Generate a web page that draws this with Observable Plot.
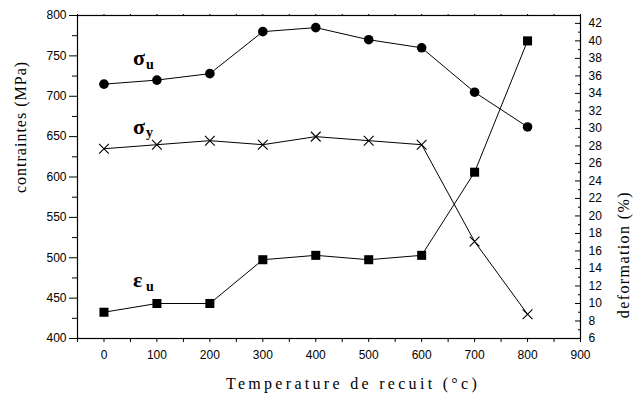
<!DOCTYPE html>
<html><head><meta charset="utf-8">
<script src="https://cdn.jsdelivr.net/npm/d3@7"></script>
<script src="https://cdn.jsdelivr.net/npm/@observablehq/plot@0.6"></script>
<style>body{margin:0;background:#fff}</style>
</head><body><div id="chart"></div>
<script>
// Data
const temps  = [0, 100, 200, 300, 400, 500, 600, 700, 800];
const sigmaU = [715, 720, 728, 780, 785, 770, 760, 705, 662];   // MPa (left axis)
const sigmaY = [635, 640, 645, 640, 650, 645, 640, 520, 430];   // MPa (left axis)
const epsU   = [9, 10, 10, 15, 15.5, 15, 15.5, 25, 40];         // % (right axis)

// Tick values
const xMajor = [0, 100, 200, 300, 400, 500, 600, 700, 800, 900];
const xMinor = [-50, 50, 150, 250, 350, 450, 550, 650, 750, 850];
const leftMajor = [400, 450, 500, 550, 600, 650, 700, 750, 800];
const leftMinor = [425, 475, 525, 575, 625, 675, 725, 775];
const rightMajor = [6, 8, 10, 12, 14, 16, 18, 20, 22, 24, 26, 28, 30, 32, 34, 36, 38, 40, 42];
const rightMinor = [7, 9, 11, 13, 15, 17, 19, 21, 23, 25, 27, 29, 31, 33, 35, 37, 39, 41];

// Series labels
const labelText = ["σ", "σ", "ε"];
const labelSub  = ["u", "y", "u"];
const labelX    = [55, 55, 55];
const labelY    = [747, 662, 472];

const leftDomain = [400, 800];
const rightDomain = [6, 42.9];
const rmap = d3.scaleLinear().domain(rightDomain).range(leftDomain);

const rows = temps.map((t, i) => ({t, su: sigmaU[i], sy: sigmaY[i], e: rmap(epsU[i])}));
const labels = labelText.map((s, i) => ({s, sub: labelSub[i], x: labelX[i], y: labelY[i]}));

const blank = () => "";
const serif = "Liberation Serif";

const chart = Plot.plot({
  width: 634,
  height: 402,
  marginLeft: 77,
  marginRight: 54,
  marginTop: 15,
  marginBottom: 64,
  style: {fontFamily: "Liberation Sans, Arial, sans-serif", fontSize: "12px", color: "black", background: "white", overflow: "visible"},
  x: {domain: [-50, 900]},
  y: {domain: leftDomain},
  marks: [
    // axes
    Plot.axisX({ticks: xMajor, tickSize: 4, tickPadding: 8, label: null, fontSize: 12}),
    Plot.axisX({ticks: xMinor, tickSize: 4, tickFormat: blank, label: null}),
    Plot.axisX({anchor: "top", ticks: xMajor.concat(xMinor), tickSize: 2, tickFormat: blank, label: null}),
    Plot.axisY({ticks: leftMajor, tickSize: 8, tickPadding: 3, label: null, fontSize: 12}),
    Plot.axisY({ticks: leftMinor, tickSize: 5, tickFormat: blank, label: null}),
    Plot.axisY({anchor: "right", ticks: rightMajor.map(rmap), tickSize: 6, dx: -6, tickFormat: blank, label: null}),
    Plot.axisY({anchor: "right", ticks: rightMinor.map(rmap), tickSize: 3, dx: -3, tickFormat: blank, label: null}),
    Plot.axisY({anchor: "right", ticks: rightMajor.map(rmap), tickSize: 0, tickPadding: 8, label: null, fontSize: 12,
      tickFormat: d => String(Math.round(rmap.invert(d)))}),
    Plot.frame({stroke: "black", strokeWidth: 1.2}),
    // series
    Plot.line(rows, {x: "t", y: "su", stroke: "black", strokeWidth: 1}),
    Plot.dot(rows, {x: "t", y: "su", r: 4.8, fill: "black", stroke: "none"}),
    Plot.line(rows, {x: "t", y: "sy", stroke: "black", strokeWidth: 1}),
    Plot.dot(rows, {x: "t", y: "sy", r: 4.5, symbol: "times", stroke: "black", strokeWidth: 1.1}),
    Plot.line(rows, {x: "t", y: "e", stroke: "black", strokeWidth: 1}),
    Plot.dot(rows, {x: "t", y: "e", r: 5.1, symbol: "square", fill: "black", stroke: "none"}),
    // series labels
    Plot.text(labels, {x: "x", y: "y", text: "s", textAnchor: "start", lineAnchor: "middle", fontFamily: serif, fontWeight: "bold", fontSize: 22, fill: "black"}),
    Plot.text(labels, {x: "x", y: "y", text: "sub", textAnchor: "start", lineAnchor: "middle", dx: 13, dy: 6, fontFamily: serif, fontWeight: "bold", fontSize: 14, fill: "black"}),
    // axis titles
    Plot.text(["contraintes (MPa)"], {frameAnchor: "left", rotate: -90, dx: -57, dy: 16, fontFamily: serif, fontSize: 16, fill: "black"}),
    Plot.text(["deformation (%)"], {frameAnchor: "right", rotate: -90, dx: 43, dy: 14, fontFamily: serif, fontSize: 16, fill: "black"}),
    Plot.text(["Temperature de recuit (°c)"], {frameAnchor: "bottom", dx: 24, dy: 50, fontFamily: serif, fontSize: 16, fill: "black"})
  ]
});
// letter spacing for titles
chart.querySelectorAll("text").forEach(t => {
  const s = t.textContent;
  if (s === "contraintes (MPa)") t.setAttribute("letter-spacing", "1");
  if (s === "deformation (%)") t.setAttribute("letter-spacing", "1.4");
  if (s === "Temperature de recuit (°c)") t.setAttribute("letter-spacing", "3.3");
});
document.getElementById("chart").appendChild(chart);
</script>
</body></html>
